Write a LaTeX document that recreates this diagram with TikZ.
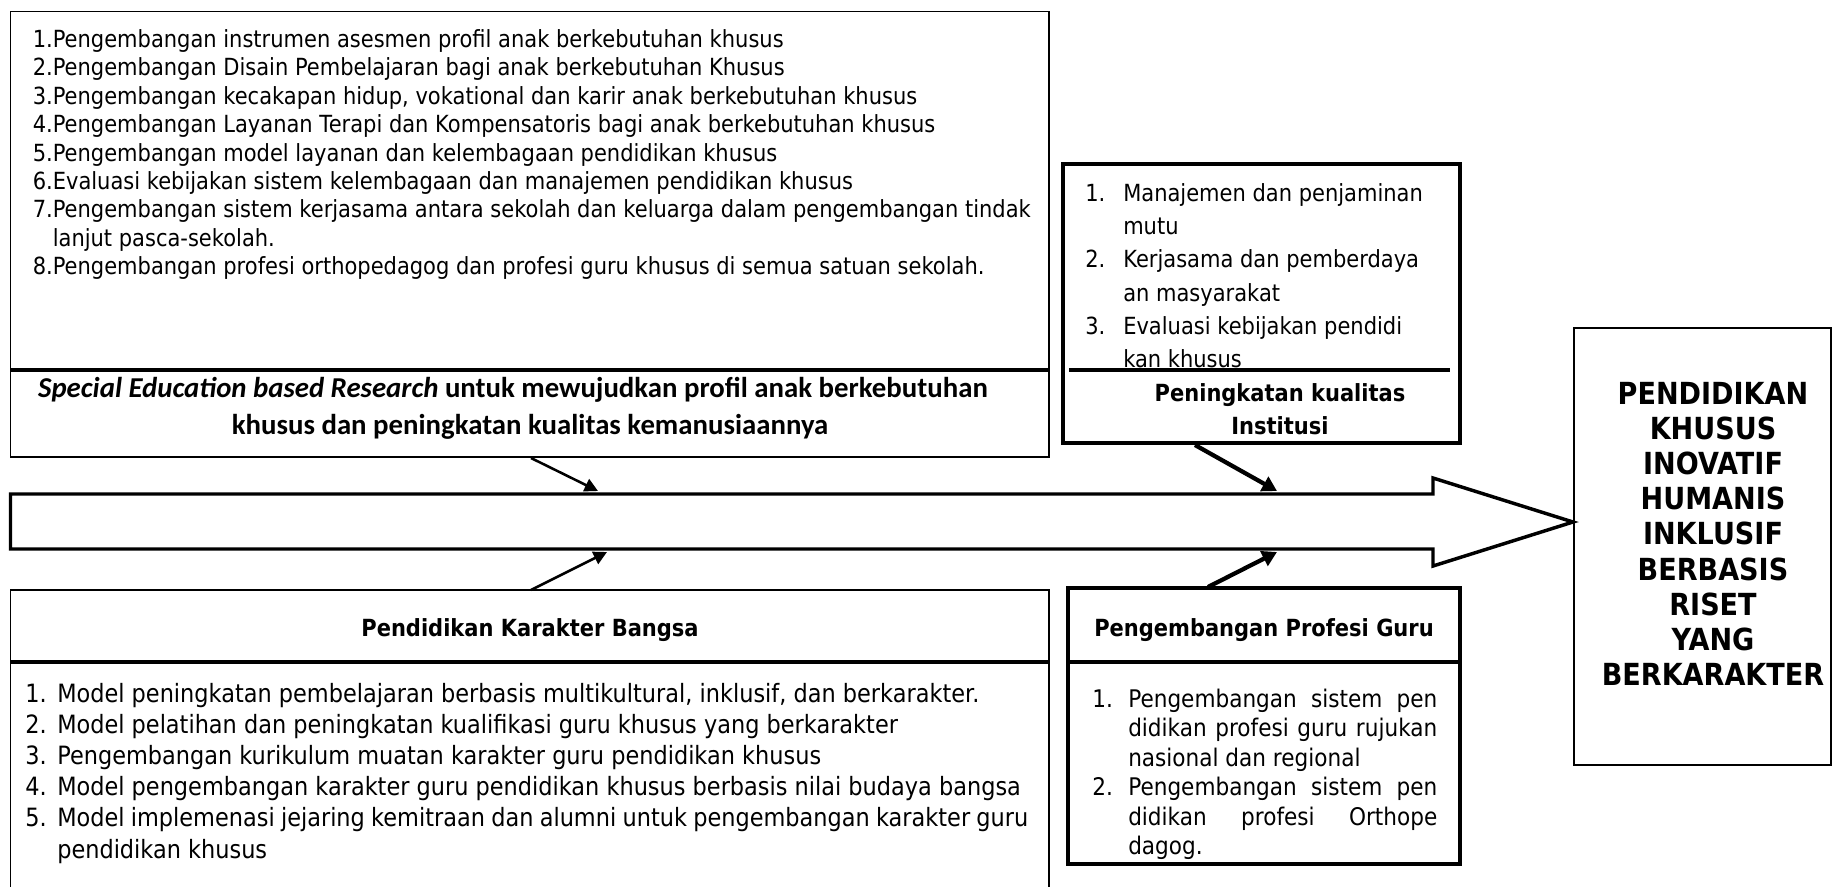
\documentclass[tikz,border=0pt]{standalone}
\usepackage{fontspec}
\setmainfont{DejaVu Sans}[FakeStretch=0.89]
\newfontfamily\calib{Carlito}
\usetikzlibrary{arrows.meta,fit}
\newcommand\jline[2]{\hbox to #1{#2}}
\begin{document}
\begin{tikzpicture}[x=0.75pt,y=-0.75pt,
  thinbox/.style={draw, inner sep=0pt, line width=1.1pt},
  thickbox/.style={draw, inner sep=0pt, line width=2.6pt},
  bt/.style={anchor=base west, inner sep=0pt, font=\fontsize{17.7}{21}\selectfont},
  btl/.style={anchor=base west, inner sep=0pt, font=\fontsize{18.9}{22}\selectfont},
  btp/.style={anchor=base west, inner sep=0pt, font=\fontsize{18.2}{22}\selectfont},
  bh/.style={anchor=base, inner sep=0pt, font=\fontsize{17.7}{21}\selectfont\bfseries},
  pk/.style={anchor=base, inner sep=0pt, font=\fontsize{22.8}{27}\selectfont\bfseries},
  cal/.style={anchor=base, inner sep=0pt, font=\calib\fontsize{21.6}{26}\selectfont\bfseries},
  divl/.style={line width=3pt},
  conn/.style={line width=1.9pt, -{Triangle[length=10pt,width=10pt]}},
  connb/.style={line width=3.2pt, -{Triangle[length=11pt,width=12pt]}}]
\useasboundingbox (0,0) rectangle (1832,886);
\fill[white] (0,0) rectangle (1832,886);

% ---------- top-left box ----------
\node[thinbox, fit={(10.5,11.7) (1049,457)}] (tl) {};
\draw[divl] (10.5,370) -- (1049,370);
\foreach \t [count=\i from 0] in {
  {1.Pengembangan instrumen asesmen profil anak berkebutuhan khusus},
  {2.Pengembangan Disain Pembelajaran bagi anak berkebutuhan Khusus},
  {3.Pengembangan kecakapan hidup, vokational dan karir anak berkebutuhan khusus},
  {4.Pengembangan Layanan Terapi dan Kompensatoris bagi anak berkebutuhan khusus},
  {5.Pengembangan model layanan dan kelembagaan pendidikan khusus},
  {6.Evaluasi kebijakan sistem kelembagaan dan manajemen pendidikan khusus},
  {7.Pengembangan sistem kerjasama antara sekolah dan keluarga dalam pengembangan tindak},
  {\hphantom{7.}lanjut pasca-sekolah.},
  {8.Pengembangan profesi orthopedagog dan profesi guru khusus di semua satuan sekolah.}}
  \node[bt] (tl\i) at (32.5,{47.5+28.4*\i}) {\t};
\node[cal] (tlh1) at (513,397) {\itshape Special Education based Research\upshape{} untuk mewujudkan profil anak berkebutuhan};
\node[cal] (tlh2) at (530,434) {khusus dan peningkatan kualitas kemanusiaannya};

% ---------- institusi box ----------
\node[thickbox, fit={(1063,164) (1460,443)}] (ib) {};
\draw[divl] (1069,370) -- (1450,370);
\foreach \n/\t [count=\i from 0] in {1./{Manajemen dan penjaminan}, /mutu, 2./{Kerjasama dan pemberdaya}, /{an masyarakat}, 3./{Evaluasi kebijakan pendidi}, /{kan khusus}} {
  \node[bt] (ibn\i) at (1085,{201.7+33.1*\i}) {\n};
  \node[bt] (ibt\i) at (1123,{201.7+33.1*\i}) {\t};
}
\node[bh] (ibh1) at (1280,401) {Peningkatan kualitas};
\node[bh] (ibh2) at (1280,434) {Institusi};

% ---------- big arrow ----------
\draw[line width=2.6pt, line join=miter] (10.5,494) -- (1433,494) -- (1433,478) -- (1573,522) -- (1433,566) -- (1433,549) -- (10.5,549) -- cycle;
\coordinate (b1) at (598,491);
\coordinate (b2) at (1277,491);
\coordinate (b3) at (607,552);
\coordinate (b4) at (1277,552);

% ---------- result box ----------
\node[thinbox, fit={(1574,328) (1831,765)}] (pk) {};
\foreach \t [count=\i from 0] in {PENDIDIKAN, KHUSUS, INOVATIF, HUMANIS, INKLUSIF, BERBASIS, RISET, YANG, BERKARAKTER}
  \node[pk] (pk\i) at (1713,{404+35.2*\i}) {\t};

% ---------- bottom-left box ----------
\node[thinbox, fit={(10.5,590) (1049,900)}] (bl) {};
\draw[divl] (10.5,662) -- (1049,662);
\node[bh] (blh) at (530,636) {Pendidikan Karakter Bangsa};
\foreach \n/\t [count=\i from 0] in {
  1./{Model peningkatan pembelajaran berbasis multikultural, inklusif, dan berkarakter.},
  2./{Model pelatihan dan peningkatan kualifikasi guru khusus yang berkarakter},
  3./{Pengembangan kurikulum muatan karakter guru pendidikan khusus},
  4./{Model pengembangan karakter guru pendidikan khusus berbasis nilai budaya bangsa}} {
  \node[btl] (bln\i) at (25,{702+31.2*\i}) {\n};
  \node[btl] (blt\i) at (57,{702+31.2*\i}) {\t};
}
\node[btl] (bln4) at (25,826.8) {5.};
\node[btl] (blt4) at (57,826.8) {\jline{728.25pt}{Model implemenasi jejaring kemitraan dan alumni untuk pengembangan karakter guru}};
\node[btl] (blt5) at (57,858) {pendidikan khusus};

% ---------- profesi box ----------
\node[thickbox, fit={(1068,588) (1460,864)}] (pb) {};
\draw[divl] (1068,662) -- (1460,662);
\node[bh] (pbh) at (1264,636) {Pengembangan Profesi Guru};
\node[btp] (pbn1) at (1092,707) {1.};
\node[btp] (pbt1) at (1128,707) {\jline{231.75pt}{Pengembangan sistem pen}};
\node[btp] (pbt2) at (1128,736.5) {\jline{231.75pt}{didikan profesi guru rujukan}};
\node[btp] (pbt3) at (1128,766) {nasional dan regional};
\node[btp] (pbn4) at (1092,795.5) {2.};
\node[btp] (pbt4) at (1128,795.5) {\jline{231.75pt}{Pengembangan sistem pen}};
\node[btp] (pbt5) at (1128,825) {\jline{231.75pt}{didikan profesi Orthope}};
\node[btp] (pbt6) at (1128,854.5) {dagog.};

% ---------- connectors ----------
\coordinate (s1) at (531,458);
\coordinate (s2) at (1195,445);
\coordinate (s3) at (531,590);
\coordinate (s4) at (1208,587);
\draw[conn] (s1) -- (b1);
\draw[connb] (s2) -- (b2);
\draw[conn] (s3) -- (b3);
\draw[connb] (s4) -- (b4);
\end{tikzpicture}
\end{document}
